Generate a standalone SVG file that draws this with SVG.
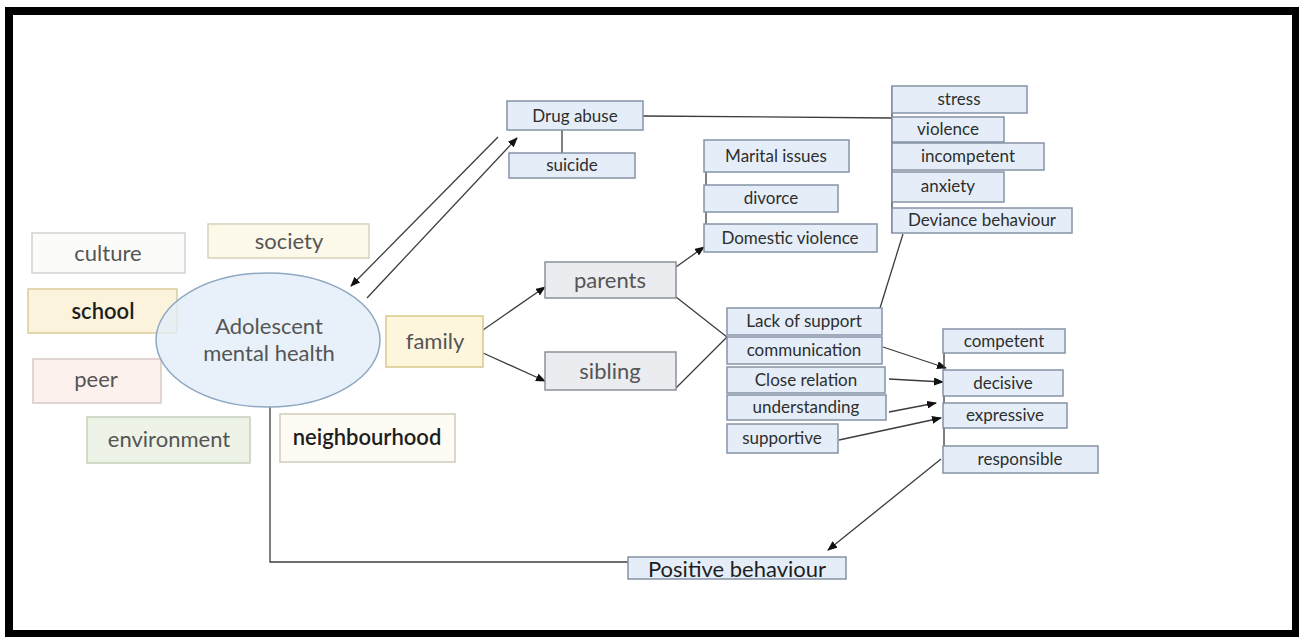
<svg xmlns="http://www.w3.org/2000/svg" width="1299" height="637" viewBox="0 0 1299 637">
  <style>
    .frame { fill: #ffffff; stroke: #000000; stroke-width: 8; }
    .big { font-family: Lato, "Open Sans", "Liberation Sans", sans-serif; font-size: 22px; fill: #555555; text-anchor: middle; }
    .dark { fill: #1e1e1e; font-weight: 600; }
    .small { font-family: Lato, "Open Sans", "Liberation Sans", sans-serif; font-size: 17px; fill: #2e2e2e; text-anchor: middle; }
    .blue { fill: #e5eef8; stroke: #8593a6; stroke-width: 1.5; }
    .grey { fill: #eaecf0; stroke: #8a919b; stroke-width: 1.5; }
    .wire { fill: none; stroke: #3c3c3c; stroke-width: 1.3; }
    .arrow { fill: none; stroke: #3c3c3c; stroke-width: 1.3; marker-end: url(#head); }
  </style>
  <defs>
    <marker id="head" markerWidth="10" markerHeight="8" refX="9" refY="4" orient="auto" markerUnits="userSpaceOnUse">
      <path d="M0,0 L10,4 L0,8 Z" fill="#111111"/>
    </marker>
  </defs>

  <!-- outer frame -->
  <rect class="frame" x="9" y="11" width="1287" height="623"/>

  <!-- connectors -->
  <g id="connectors">
    <line class="arrow" x1="498" y1="137" x2="351" y2="286"/>
    <line class="arrow" x1="367" y1="298" x2="517" y2="138"/>
    <line class="wire" x1="562" y1="130" x2="562" y2="153"/>
    <polyline class="wire" points="643,116 892,118"/>
    <line class="arrow" x1="483" y1="330" x2="545" y2="287"/>
    <line class="arrow" x1="483" y1="353" x2="545" y2="381"/>
    <line class="arrow" x1="676" y1="267" x2="704" y2="247"/>
    <line class="wire" x1="706" y1="140" x2="706" y2="252"/>
    <polyline class="wire" points="676,297 727,337 676,388"/>
    <line class="wire" x1="880" y1="308" x2="903" y2="234"/>
    <line class="wire" x1="892" y1="86" x2="892" y2="233"/>
    <line class="arrow" x1="883" y1="347" x2="946" y2="368"/>
    <line class="arrow" x1="889" y1="379" x2="943" y2="382"/>
    <line class="arrow" x1="889" y1="412" x2="936" y2="403"/>
    <line class="arrow" x1="839" y1="440" x2="941" y2="418"/>
    <line class="wire" x1="944" y1="329" x2="944" y2="473"/>
    <line class="arrow" x1="941" y1="459" x2="828" y2="550"/>
    <polyline class="wire" points="270,407 270,562 628,562"/>
  </g>

  <!-- context factors -->
  <g id="culture">
    <rect x="32" y="233" width="153" height="40" fill="#fbfbfa" stroke="#d2d2d0" stroke-width="1.5"/>
    <text class="big" x="108" y="261">culture</text>
  </g>
  <g id="society">
    <rect x="208" y="224" width="161" height="34" fill="#fdf9ea" stroke="#d8d2ba" stroke-width="1.5"/>
    <text class="big" x="289" y="249">society</text>
  </g>
  <g id="school">
    <rect x="28" y="289" width="149" height="44" fill="#fbf3dc" stroke="#d9cd9c" stroke-width="1.5"/>
    <text class="big dark" x="103" y="319">school</text>
  </g>
  <g id="peer">
    <rect x="33" y="359" width="128" height="44" fill="#fdf1ee" stroke="#d8c9c5" stroke-width="1.5"/>
    <text class="big" x="96" y="387">peer</text>
  </g>
  <g id="environment">
    <rect x="87" y="417" width="163" height="46" fill="#eef3e8" stroke="#c5cfba" stroke-width="1.5"/>
    <text class="big" x="169" y="447">environment</text>
  </g>
  <g id="neighbourhood">
    <rect x="280" y="414" width="175" height="48" fill="#fdfbf4" stroke="#cfcbbb" stroke-width="1.5"/>
    <text class="big dark" x="367" y="445">neighbourhood</text>
  </g>

  <!-- centre -->
  <g id="adolescent-mental-health">
    <ellipse cx="268" cy="340" rx="112" ry="67" fill="#e2edf8" fill-opacity="0.8" stroke="#8ea8c2" stroke-width="1.5"/>
    <text class="big" x="269" y="334">Adolescent</text>
    <text class="big" x="269" y="361">mental health</text>
  </g>

  <g id="family">
    <rect x="386" y="316" width="97" height="51" fill="#fdf6dc" stroke="#d6c98a" stroke-width="1.5"/>
    <text class="big" x="435" y="349">family</text>
  </g>

  <g id="parents">
    <rect class="grey" x="545" y="262" width="131" height="36"/>
    <text class="big" x="610" y="288">parents</text>
  </g>
  <g id="sibling">
    <rect class="grey" x="545" y="352" width="131" height="38"/>
    <text class="big" x="610" y="379">sibling</text>
  </g>

  <!-- risk outcomes -->
  <g id="drug-abuse">
    <rect class="blue" x="507" y="101" width="136" height="29"/>
    <text class="small" x="575" y="122">Drug abuse</text>
  </g>
  <g id="suicide">
    <rect class="blue" x="509" y="153" width="126" height="25"/>
    <text class="small" x="572" y="171">suicide</text>
  </g>

  <!-- parental problems -->
  <g id="marital-issues">
    <rect class="blue" x="704" y="140" width="145" height="32"/>
    <text class="small" x="776" y="162">Marital issues</text>
  </g>
  <g id="divorce">
    <rect class="blue" x="704" y="185" width="134" height="27"/>
    <text class="small" x="771" y="204">divorce</text>
  </g>
  <g id="domestic-violence">
    <rect class="blue" x="704" y="224" width="173" height="28"/>
    <text class="small" x="790" y="244">Domestic violence</text>
  </g>

  <!-- negative effects -->
  <g id="stress">
    <rect class="blue" x="892" y="86" width="135" height="27"/>
    <text class="small" x="959" y="105">stress</text>
  </g>
  <g id="violence">
    <rect class="blue" x="892" y="117" width="112" height="25"/>
    <text class="small" x="948" y="135">violence</text>
  </g>
  <g id="incompetent">
    <rect class="blue" x="892" y="143" width="152" height="27"/>
    <text class="small" x="968" y="162">incompetent</text>
  </g>
  <g id="anxiety">
    <rect class="blue" x="892" y="172" width="112" height="30"/>
    <text class="small" x="948" y="192">anxiety</text>
  </g>
  <g id="deviance-behaviour">
    <rect class="blue" x="892" y="208" width="180" height="25"/>
    <text class="small" x="982" y="226">Deviance behaviour</text>
  </g>

  <!-- family interaction -->
  <g id="lack-of-support">
    <rect class="blue" x="727" y="308" width="155" height="27"/>
    <text class="small" x="804" y="327">Lack of support</text>
  </g>
  <g id="communication">
    <rect class="blue" x="727" y="337" width="155" height="27"/>
    <text class="small" x="804" y="356">communication</text>
  </g>
  <g id="close-relation">
    <rect class="blue" x="727" y="367" width="158" height="26"/>
    <text class="small" x="806" y="386">Close relation</text>
  </g>
  <g id="understanding">
    <rect class="blue" x="727" y="395" width="159" height="25"/>
    <text class="small" x="806" y="413">understanding</text>
  </g>
  <g id="supportive">
    <rect class="blue" x="727" y="424" width="111" height="29"/>
    <text class="small" x="782" y="444">supportive</text>
  </g>

  <!-- positive effects -->
  <g id="competent">
    <rect class="blue" x="943" y="329" width="122" height="24"/>
    <text class="small" x="1004" y="347">competent</text>
  </g>
  <g id="decisive">
    <rect class="blue" x="943" y="370" width="120" height="26"/>
    <text class="small" x="1003" y="389">decisive</text>
  </g>
  <g id="expressive">
    <rect class="blue" x="943" y="403" width="124" height="25"/>
    <text class="small" x="1005" y="421">expressive</text>
  </g>
  <g id="responsible">
    <rect class="blue" x="943" y="446" width="155" height="27"/>
    <text class="small" x="1020" y="465">responsible</text>
  </g>

  <g id="positive-behaviour">
    <rect class="blue" x="628" y="557" width="218" height="22"/>
    <text class="big dark" x="737" y="577" style="font-weight:400">Positive behaviour</text>
  </g>
</svg>
